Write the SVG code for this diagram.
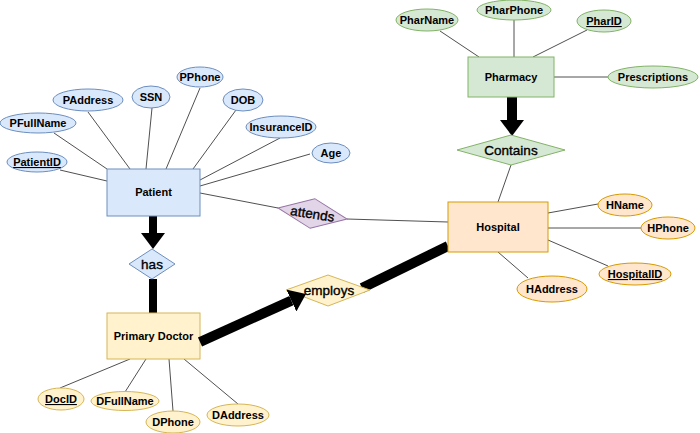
<svg xmlns="http://www.w3.org/2000/svg" width="700" height="433" viewBox="0 0 700 433">
<style>
text{font-family:"Liberation Sans",Arial,sans-serif;fill:#000;text-anchor:middle}
.ent{font-size:11px;font-weight:bold}
.att{font-size:11px;font-weight:bold}
.rel{font-size:13.5px;stroke:#000;stroke-width:0.35}
.u{text-decoration:underline}
.blue{fill:#dae8fc;stroke:#6c8ebf;stroke-width:1}
.green{fill:#d5e8d4;stroke:#82b366;stroke-width:1}
.orange{fill:#ffe6cc;stroke:#d79b00;stroke-width:1}
.yellow{fill:#fff2cc;stroke:#d6b656;stroke-width:1}
.purple{fill:#e1d5e7;stroke:#9673a6;stroke-width:1}
.ln{stroke:#505050;stroke-width:1;fill:none}
.thick{stroke:#000;fill:none}
</style>
<defs>
<marker id="head" viewBox="0 0 16 24" markerWidth="16" markerHeight="24" refX="0" refY="12" orient="auto" markerUnits="userSpaceOnUse">
<path d="M0,0 L16,12 L0,24 z" fill="#000"/>
</marker>
</defs>
<rect width="700" height="433" fill="#fff"/>

<g id="connectors">
<line class="ln" x1="440" y1="31" x2="479" y2="57"/>
<line class="ln" x1="514" y1="20" x2="514" y2="57"/>
<line class="ln" x1="587" y1="30" x2="533" y2="57"/>
<line class="ln" x1="554" y1="77" x2="608" y2="77"/>
<line class="ln" x1="511" y1="165" x2="498" y2="202"/>
<line class="ln" x1="60" y1="170" x2="107" y2="181"/>
<line class="ln" x1="54" y1="133" x2="107" y2="169"/>
<line class="ln" x1="88" y1="112" x2="130" y2="169"/>
<line class="ln" x1="152" y1="108" x2="146" y2="169"/>
<line class="ln" x1="200" y1="88" x2="166" y2="169"/>
<line class="ln" x1="236" y1="110" x2="193" y2="169"/>
<line class="ln" x1="280" y1="138" x2="200" y2="180"/>
<line class="ln" x1="310" y1="154" x2="200" y2="186"/>
<line class="ln" x1="200" y1="193" x2="278" y2="208"/>
<line class="ln" x1="347" y1="219" x2="448" y2="222"/>
<line class="ln" x1="548" y1="213" x2="598" y2="204"/>
<line class="ln" x1="548" y1="228" x2="641" y2="228"/>
<line class="ln" x1="548" y1="240" x2="608" y2="266"/>
<line class="ln" x1="498" y1="252" x2="528" y2="278"/>
<line class="ln" x1="60" y1="388" x2="130" y2="359"/>
<line class="ln" x1="125" y1="392" x2="146" y2="359"/>
<line class="ln" x1="173" y1="411" x2="169" y2="359"/>
<line class="ln" x1="238" y1="404" x2="184" y2="359"/>
<line class="thick" x1="512" y1="97" x2="512" y2="120" stroke-width="10" marker-end="url(#head)"/>
<line class="thick" x1="153" y1="216" x2="153" y2="233" stroke-width="8" marker-end="url(#head)"/>
<line class="thick" x1="153" y1="279" x2="153" y2="313" stroke-width="8"/>
<line class="thick" x1="362" y1="288" x2="448" y2="246" stroke-width="10"/>
</g>

<g id="pharmacy">
<rect class="green" x="468" y="57" width="86" height="40"/>
<text class="ent" x="511" y="81">Pharmacy</text>
</g>
<g id="pharname"><ellipse class="green" cx="427" cy="20" rx="31" ry="11"/><text class="att" x="427" y="24">PharName</text></g>
<g id="pharphone"><ellipse class="green" cx="514" cy="10" rx="37" ry="10"/><text class="att" x="514" y="14">PharPhone</text></g>
<g id="pharid"><ellipse class="green" cx="604" cy="21" rx="27" ry="11"/><text class="att u" x="604" y="25">PharID</text></g>
<g id="prescriptions"><ellipse class="green" cx="653" cy="77" rx="45" ry="11"/><text class="att" x="653" y="81">Prescriptions</text></g>
<g id="contains">
<polygon class="green" points="457,150 511,135 565,150 511,165"/>
<text class="rel" x="511" y="155">Contains</text>
</g>

<g id="hospital">
<rect class="orange" x="448" y="202" width="100" height="50"/>
<text class="ent" x="498" y="231">Hospital</text>
</g>
<g id="hname"><ellipse class="orange" cx="625" cy="205" rx="27" ry="11"/><text class="att" x="625" y="209">HName</text></g>
<g id="hphone"><ellipse class="orange" cx="668" cy="228" rx="27" ry="11"/><text class="att" x="668" y="232">HPhone</text></g>
<g id="hospitalid"><ellipse class="orange" cx="635" cy="274" rx="36" ry="11"/><text class="att u" x="635" y="278">HospitalID</text></g>
<g id="haddress"><ellipse class="orange" cx="552" cy="289" rx="35" ry="13"/><text class="att" x="552" y="293">HAddress</text></g>

<g id="patient">
<rect class="blue" x="107" y="169" width="93" height="47"/>
<text class="ent" x="153.5" y="196">Patient</text>
</g>
<g id="patientid"><ellipse class="blue" cx="37" cy="162" rx="30" ry="10"/><text class="att u" x="37" y="166">PatientID</text></g>
<g id="pfullname"><ellipse class="blue" cx="38" cy="123" rx="38" ry="10"/><text class="att" x="38" y="127">PFullName</text></g>
<g id="paddress"><ellipse class="blue" cx="88" cy="100" rx="35" ry="11"/><text class="att" x="88" y="104">PAddress</text></g>
<g id="ssn"><ellipse class="blue" cx="151" cy="97" rx="19" ry="11"/><text class="att" x="151" y="101">SSN</text></g>
<g id="pphone"><ellipse class="blue" cx="200" cy="77" rx="23" ry="10"/><text class="att" x="200" y="81">PPhone</text></g>
<g id="dob"><ellipse class="blue" cx="243" cy="100" rx="20" ry="11"/><text class="att" x="243" y="104">DOB</text></g>
<g id="insuranceid"><ellipse class="blue" cx="281" cy="127" rx="35" ry="11"/><text class="att" x="281" y="131">InsuranceID</text></g>
<g id="age"><ellipse class="blue" cx="331" cy="153" rx="19" ry="10"/><text class="att" x="331" y="157">Age</text></g>

<g id="attends" transform="translate(312.5,213.5) rotate(9)">
<polygon class="purple" points="-35,0 0,-15 35,0 0,15"/>
<text class="rel" x="0" y="5">attends</text>
</g>

<g id="has">
<polygon class="blue" points="129,264 152,249 175,264 152,279"/>
<text class="rel" x="152" y="269">has</text>
</g>

<g id="primarydoctor">
<rect class="yellow" x="107" y="313" width="93" height="46"/>
<text class="ent" x="153.5" y="340">Primary Doctor</text>
</g>
<g id="docid"><ellipse class="yellow" cx="61" cy="399" rx="23" ry="11"/><text class="att u" x="61" y="403">DocID</text></g>
<g id="dfullname"><ellipse class="yellow" cx="125" cy="401" rx="34" ry="9.5"/><text class="att" x="125" y="405">DFullName</text></g>
<g id="dphone"><ellipse class="yellow" cx="173" cy="422" rx="27" ry="11"/><text class="att" x="173" y="426">DPhone</text></g>
<g id="daddress"><ellipse class="yellow" cx="238" cy="415" rx="31" ry="11"/><text class="att" x="238" y="419">DAddress</text></g>

<g id="employs">
<polygon class="yellow" points="286,290 328,275 370,290 328,306"/>
<text class="rel" x="329" y="295">employs</text>
</g>

<g id="employs-arrow">
<line class="thick" x1="200" y1="342" x2="291.4" y2="300.6" stroke-width="10" marker-end="url(#head)"/>
</g>
</svg>
